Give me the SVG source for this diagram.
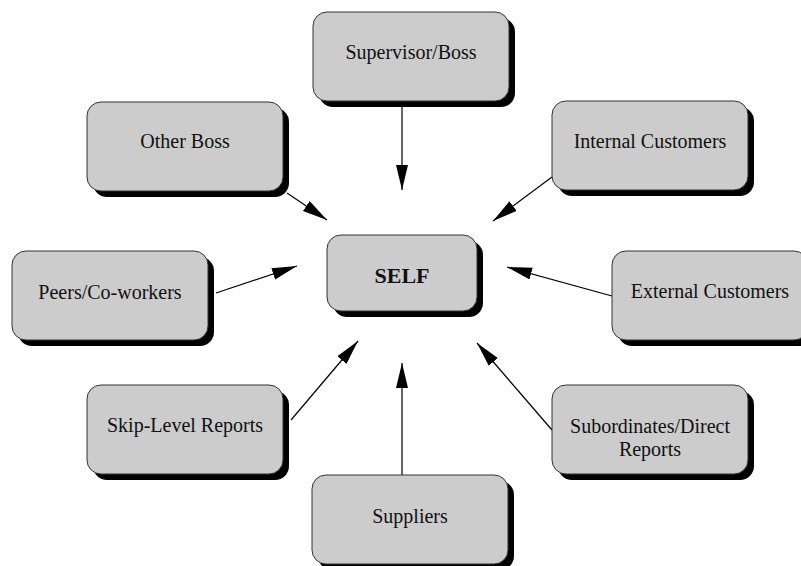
<svg xmlns="http://www.w3.org/2000/svg" width="801" height="566" viewBox="0 0 801 566">
<style>
.sh{fill:#000}
.bx{fill:#cccccc;stroke:#333;stroke-width:1}
.t{font-family:"Liberation Serif","Times New Roman",serif;font-size:20px;fill:#111;text-anchor:middle}
.b{font-weight:bold;font-size:22px}
.c{stroke:#000;stroke-width:1.2;fill:none;marker-end:url(#ah)}
</style>
<defs>
<marker id="ah" markerUnits="userSpaceOnUse" markerWidth="26" markerHeight="14" refX="25" refY="6" orient="auto">
<path d="M0,0 L25,6 L0,12 Z" fill="#000"/>
</marker>
</defs>
<g id="connectors">
<line class="c" x1="402" y1="106" x2="402" y2="190"/>
<line class="c" x1="287" y1="193" x2="327" y2="220"/>
<line class="c" x1="552" y1="177" x2="493" y2="221"/>
<line class="c" x1="216" y1="293" x2="297" y2="266"/>
<line class="c" x1="612" y1="296" x2="507" y2="267"/>
<line class="c" x1="291" y1="420" x2="358" y2="341"/>
<line class="c" x1="552" y1="430" x2="477" y2="343"/>
<line class="c" x1="402" y1="475" x2="402" y2="363"/>
</g>
<g id="supervisor">
<rect class="sh" x="319" y="18" width="196" height="89" rx="14"/>
<rect class="bx" x="313" y="12" width="196" height="89" rx="14"/>
<text class="t" x="411" y="59">Supervisor/Boss</text>
</g>
<g id="otherboss">
<rect class="sh" x="93" y="108" width="196" height="89" rx="14"/>
<rect class="bx" x="87" y="102" width="196" height="89" rx="14"/>
<text class="t" x="185" y="148">Other Boss</text>
</g>
<g id="internal">
<rect class="sh" x="558" y="107" width="196" height="89" rx="14"/>
<rect class="bx" x="552" y="101" width="196" height="89" rx="14"/>
<text class="t" x="650" y="148">Internal Customers</text>
</g>
<g id="peers">
<rect class="sh" x="18" y="257" width="196" height="89" rx="14"/>
<rect class="bx" x="12" y="251" width="196" height="89" rx="14"/>
<text class="t" x="110" y="299">Peers/Co-workers</text>
</g>
<g id="self">
<rect class="sh" x="333" y="241" width="150" height="76" rx="14"/>
<rect class="bx" x="327" y="235" width="150" height="76" rx="14"/>
<text class="t b" x="402" y="283">SELF</text>
</g>
<g id="external">
<rect class="sh" x="618" y="257" width="196" height="89" rx="14"/>
<rect class="bx" x="612" y="251" width="196" height="89" rx="14"/>
<text class="t" x="710" y="298">External Customers</text>
</g>
<g id="skiplevel">
<rect class="sh" x="93" y="391" width="196" height="89" rx="14"/>
<rect class="bx" x="87" y="385" width="196" height="89" rx="14"/>
<text class="t" x="185" y="432">Skip-Level Reports</text>
</g>
<g id="subordinates">
<rect class="sh" x="558" y="391" width="196" height="89" rx="14"/>
<rect class="bx" x="552" y="385" width="196" height="89" rx="14"/>
<text class="t" x="650" y="433">Subordinates/Direct</text>
<text class="t" x="650" y="456">Reports</text>
</g>
<g id="suppliers">
<rect class="sh" x="318" y="481" width="196" height="89" rx="14"/>
<rect class="bx" x="312" y="475" width="196" height="89" rx="14"/>
<text class="t" x="410" y="523">Suppliers</text>
</g>
</svg>
